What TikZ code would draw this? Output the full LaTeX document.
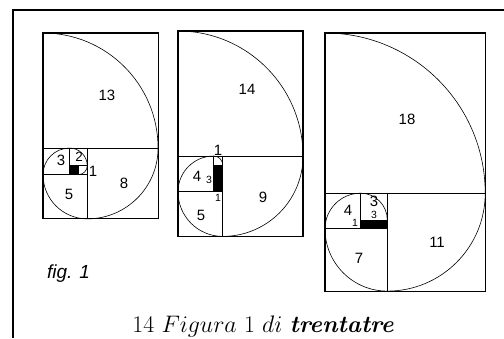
\RequirePackage{fix-cm}
\documentclass[tikz,border=0pt]{standalone}
\usepackage{fontspec}
\newfontfamily\arial{Liberation Sans}
\tikzset{
  frame/.style={line width=2bp},
  box/.style={line width=1.1bp},
  inner/.style={line width=1bp},
  spiral/.style={line width=0.6bp},
  num/.style={font=\arial\fontsize{15}{17}\selectfont, inner sep=0pt},
  small/.style={font=\arial\fontsize{10.5}{12}\selectfont, inner sep=0pt},
}
\begin{document}
\begin{tikzpicture}[x=1bp,y=-1bp]
\useasboundingbox (0,0) rectangle (504,338);
% outer frame
\draw[frame] (12.8,338) -- (12.8,9.5) -- (504,9.5);

% figure 1
\begin{scope}[shift={(43,33)},x=8.85bp,y=-8.85bp]
  \fill (3,15) rectangle (4,16);
  \draw[box] (0,0) rectangle (13,21);
  \draw[inner] (0,13) -- (13,13);
  \draw[inner] (5,13) -- (5,21);
  \draw[inner] (0,16) -- (5,16);
  \draw[inner] (3,13) -- (3,16);
  \draw[inner] (3,15) -- (5,15);
  \draw[inner] (4,15) -- (4,16);
  \draw[spiral] (0,0) arc[start angle=270,end angle=360,radius=13]
                      arc[start angle=0,end angle=90,radius=8]
                      arc[start angle=90,end angle=180,radius=5]
                      arc[start angle=180,end angle=270,radius=3]
                      arc[start angle=270,end angle=360,radius=2]
                      arc[start angle=0,end angle=90,radius=1];
\end{scope}
\node[num] (a13) at (107,95) {13};
\node[num] (a3) at (61,160) {3};
\node[num,font=\arial\fontsize{13.5}{15}\selectfont] (a2) at (79,157) {2};
\node[num] (a1) at (93,171) {1};
\node[num] (a5) at (69,194) {5};
\node[num] (a8) at (124,183) {8};

% figure 2
\begin{scope}[shift={(178,31)},x=8.93bp,y=-8.93bp]
  \fill (4,15) rectangle (5,18);
  \draw[box] (0,0) rectangle (14,23);
  \draw[inner] (0,14) -- (14,14);
  \draw[inner] (5,14) -- (5,23);
  \draw[inner] (0,18) -- (5,18);
  \draw[inner] (4,14) -- (4,18);
  \draw[spiral] (0,0) arc[start angle=270,end angle=360,radius=14]
                      arc[start angle=0,end angle=90,radius=9]
                      arc[start angle=90,end angle=180,radius=5]
                      arc[start angle=180,end angle=270,radius=4]
                      arc[start angle=270,end angle=360,radius=1];
\end{scope}
\node[num] (b14) at (247,89) {14};
\node[num] (b1) at (218,150) {1};
\node[num] (b4) at (197,176) {4};
\node[small] (b3s) at (209,180) {3};
\node[small] (b1s) at (218,198) {1};
\node[num] (b5) at (201,215) {5};
\node[num] (b9) at (263,197) {9};

% figure 3
\begin{scope}[shift={(325,33)},x=8.9bp,y=-8.9bp]
  \fill (4,21) rectangle (7,22);
  \draw[box] (0,0) rectangle (18,29);
  \draw[inner] (0,18) -- (18,18);
  \draw[inner] (7,18) -- (7,29);
  \draw[inner] (0,22) -- (7,22);
  \draw[inner] (4,18) -- (4,22);
  \draw[spiral] (0,0) arc[start angle=270,end angle=360,radius=18]
                      arc[start angle=0,end angle=90,radius=11]
                      arc[start angle=90,end angle=180,radius=7]
                      arc[start angle=180,end angle=270,radius=4]
                      arc[start angle=270,end angle=360,radius=3];
\end{scope}
\node[num] (c18) at (407,119) {18};
\node[num] (c4) at (348,210) {4};
\node[small] (c1s) at (355,223) {1};
\node[num] (c3) at (374,201.5) {3};
\node[small] (c3s) at (374,215) {3};
\node[num] (c11) at (437,242) {11};
\node[num] (c7) at (359,258) {7};

% labels
\node[font=\arial\itshape\fontsize{19}{22}\selectfont, anchor=base west, inner sep=0pt] (fig) at (47,278) {fig. 1};
\node[font=\fontsize{24}{28}\selectfont, anchor=base, inner sep=0pt] (cap) at (263,332)
  {14 $Figura$ 1 $di$ \textbf{\textit{trentatre}}};
\end{tikzpicture}
\end{document}
